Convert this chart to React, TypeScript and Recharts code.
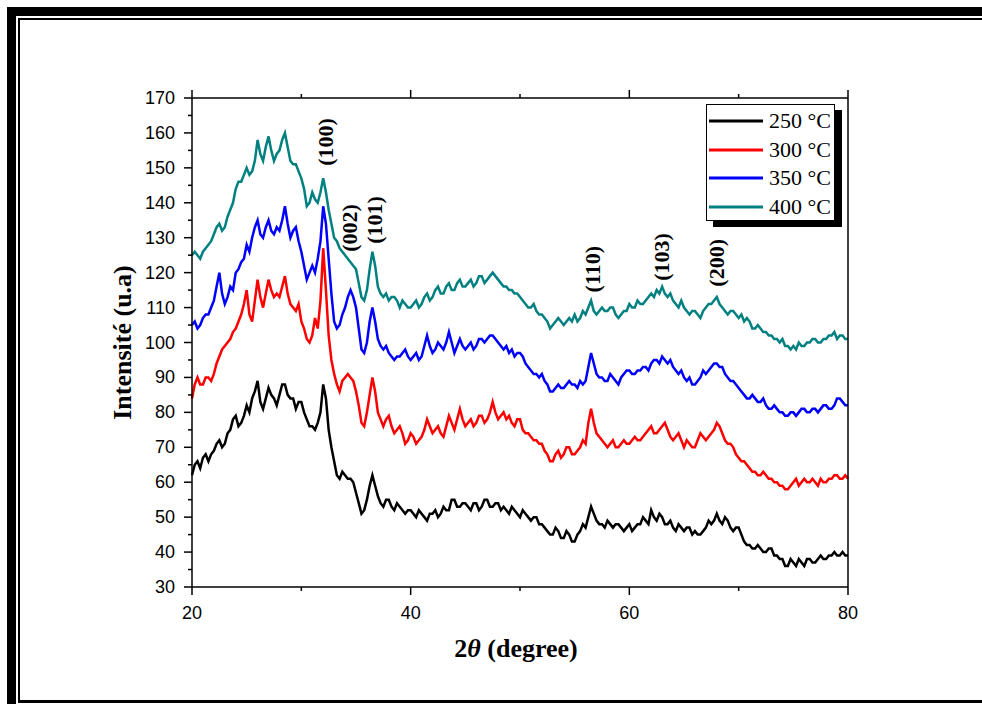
import { Legend, Line, LineChart, ReferenceDot, XAxis, YAxis } from "recharts";

// 2θ grid, 0.25° step
const twoTheta = [
  20, 20.25, 20.5, 20.75, 21, 21.25, 21.5, 21.75, 22, 22.25, 22.5, 22.75, 23, 23.25, 23.5, 23.75, 24, 24.25, 24.5, 24.75,
  25, 25.25, 25.5, 25.75, 26, 26.25, 26.5, 26.75, 27, 27.25, 27.5, 27.75, 28, 28.25, 28.5, 28.75, 29, 29.25, 29.5, 29.75,
  30, 30.25, 30.5, 30.75, 31, 31.25, 31.5, 31.75, 32, 32.25, 32.5, 32.75, 33, 33.25, 33.5, 33.75, 34, 34.25, 34.5, 34.75,
  35, 35.25, 35.5, 35.75, 36, 36.25, 36.5, 36.75, 37, 37.25, 37.5, 37.75, 38, 38.25, 38.5, 38.75, 39, 39.25, 39.5, 39.75,
  40, 40.25, 40.5, 40.75, 41, 41.25, 41.5, 41.75, 42, 42.25, 42.5, 42.75, 43, 43.25, 43.5, 43.75, 44, 44.25, 44.5, 44.75,
  45, 45.25, 45.5, 45.75, 46, 46.25, 46.5, 46.75, 47, 47.25, 47.5, 47.75, 48, 48.25, 48.5, 48.75, 49, 49.25, 49.5, 49.75,
  50, 50.25, 50.5, 50.75, 51, 51.25, 51.5, 51.75, 52, 52.25, 52.5, 52.75, 53, 53.25, 53.5, 53.75, 54, 54.25, 54.5, 54.75,
  55, 55.25, 55.5, 55.75, 56, 56.25, 56.5, 56.75, 57, 57.25, 57.5, 57.75, 58, 58.25, 58.5, 58.75, 59, 59.25, 59.5, 59.75,
  60, 60.25, 60.5, 60.75, 61, 61.25, 61.5, 61.75, 62, 62.25, 62.5, 62.75, 63, 63.25, 63.5, 63.75, 64, 64.25, 64.5, 64.75,
  65, 65.25, 65.5, 65.75, 66, 66.25, 66.5, 66.75, 67, 67.25, 67.5, 67.75, 68, 68.25, 68.5, 68.75, 69, 69.25, 69.5, 69.75,
  70, 70.25, 70.5, 70.75, 71, 71.25, 71.5, 71.75, 72, 72.25, 72.5, 72.75, 73, 73.25, 73.5, 73.75, 74, 74.25, 74.5, 74.75,
  75, 75.25, 75.5, 75.75, 76, 76.25, 76.5, 76.75, 77, 77.25, 77.5, 77.75, 78, 78.25, 78.5, 78.75, 79, 79.25, 79.5, 79.75,
  80,
];

const i250 = [
  62, 65, 66, 64, 67, 68, 66, 68, 69, 71, 72, 70, 71, 74, 75, 78, 79, 76, 77, 79,
  82, 80, 84, 86, 89, 83, 81, 84, 87, 85, 84, 82, 85, 88, 88, 85, 84, 84, 81, 83,
  83, 80, 78, 76, 76, 75, 77, 80, 88, 84, 75, 70, 66, 62, 61, 63, 62, 61, 61, 60,
  57, 54, 51, 52, 55, 59, 62, 59, 56, 54, 53, 55, 55, 53, 52, 54, 53, 52, 51, 52,
  52, 51, 50, 52, 51, 50, 49, 51, 51, 52, 50, 51, 53, 52, 52, 55, 55, 53, 53, 54,
  54, 53, 52, 54, 54, 52, 53, 55, 55, 53, 53, 54, 54, 52, 53, 52, 51, 53, 52, 51,
  50, 52, 51, 50, 49, 50, 50, 48, 48, 47, 46, 45, 45, 47, 46, 44, 44, 46, 45, 43,
  43, 45, 46, 48, 47, 50, 53, 51, 49, 48, 48, 47, 49, 48, 47, 48, 48, 47, 46, 47,
  48, 46, 47, 48, 48, 50, 49, 48, 52, 50, 49, 51, 50, 48, 48, 49, 47, 46, 48, 47,
  46, 47, 47, 45, 46, 45, 45, 46, 47, 49, 48, 49, 51, 49, 48, 50, 49, 47, 46, 47,
  47, 45, 43, 42, 42, 41, 41, 42, 41, 40, 40, 41, 41, 39, 39, 38, 38, 36, 36, 38,
  37, 36, 38, 37, 36, 38, 38, 37, 37, 38, 39, 38, 38, 39, 39, 40, 39, 39, 40, 39,
  39,
];

const i300 = [
  84, 88, 90, 88, 88, 90, 90, 89, 91, 94, 96, 98, 99, 100, 101, 103, 104, 106, 108, 111,
  115, 108, 106, 112, 118, 113, 110, 114, 118, 115, 113, 114, 113, 116, 119, 114, 111, 110, 109, 111,
  106, 104, 101, 100, 102, 107, 104, 112, 127, 115, 102, 95, 91, 88, 86, 89, 90, 91, 90, 89,
  86, 82, 77, 76, 80, 85, 90, 86, 80, 78, 76, 78, 79, 76, 74, 75, 76, 74, 71, 72,
  74, 73, 71, 72, 73, 75, 78, 76, 74, 75, 76, 74, 73, 76, 79, 77, 75, 78, 81, 78,
  76, 77, 78, 76, 77, 79, 79, 77, 78, 80, 83, 80, 78, 79, 80, 78, 79, 77, 76, 78,
  78, 75, 74, 74, 73, 72, 72, 71, 71, 69, 68, 66, 66, 68, 69, 67, 68, 70, 70, 68,
  68, 69, 70, 72, 71, 77, 81, 77, 74, 73, 72, 71, 70, 71, 72, 70, 70, 71, 72, 71,
  71, 72, 73, 72, 72, 73, 74, 75, 76, 74, 74, 75, 76, 77, 75, 73, 72, 73, 74, 72,
  70, 72, 71, 70, 70, 72, 74, 73, 72, 73, 74, 75, 77, 76, 74, 72, 71, 71, 70, 68,
  67, 66, 66, 65, 64, 63, 63, 62, 62, 63, 62, 61, 61, 60, 60, 59, 59, 58, 58, 59,
  60, 61, 59, 60, 61, 60, 60, 61, 60, 59, 61, 60, 60, 61, 61, 62, 62, 61, 61, 62,
  61,
];

const i350 = [
  105, 106, 104, 105, 107, 108, 108, 110, 112, 116, 120, 114, 111, 113, 116, 115, 120, 121, 123, 124,
  128, 126, 130, 133, 135, 131, 130, 133, 135, 132, 131, 133, 132, 135, 139, 134, 130, 132, 133, 129,
  126, 122, 118, 120, 122, 120, 124, 129, 139, 134, 124, 114, 106, 104, 105, 108, 110, 113, 115, 113,
  110, 104, 98, 97, 100, 106, 110, 106, 101, 99, 98, 99, 97, 96, 95, 96, 96, 97, 98, 96,
  95, 96, 97, 95, 96, 99, 102, 99, 97, 98, 100, 99, 98, 100, 103, 100, 97, 99, 101, 99,
  98, 99, 100, 98, 99, 101, 101, 100, 101, 102, 102, 101, 100, 99, 98, 99, 97, 98, 96, 97,
  97, 96, 94, 93, 92, 91, 91, 90, 91, 89, 88, 86, 86, 87, 88, 87, 87, 88, 89, 88,
  88, 87, 89, 88, 89, 93, 97, 94, 91, 90, 90, 89, 89, 91, 90, 89, 88, 90, 91, 92,
  92, 91, 91, 92, 92, 93, 93, 92, 94, 95, 95, 94, 96, 95, 94, 95, 93, 92, 91, 92,
  90, 89, 90, 88, 88, 89, 90, 92, 91, 92, 93, 94, 94, 93, 93, 91, 90, 89, 89, 88,
  87, 86, 85, 84, 84, 85, 84, 83, 83, 84, 82, 81, 81, 82, 81, 80, 80, 79, 79, 80,
  80, 79, 80, 81, 81, 80, 80, 81, 81, 80, 81, 82, 82, 81, 81, 82, 84, 84, 83, 82,
  82,
];

const i400 = [
  125, 126, 125, 124, 126, 127, 128, 129, 131, 133, 134, 132, 133, 136, 138, 140, 144, 146, 146, 148,
  150, 148, 149, 152, 158, 154, 152, 156, 159, 155, 152, 154, 155, 158, 160, 156, 152, 151, 151, 149,
  147, 144, 139, 140, 143, 141, 140, 143, 147, 143, 138, 134, 130, 129, 127, 126, 125, 124, 123, 122,
  121, 117, 113, 112, 115, 121, 126, 122, 116, 114, 113, 114, 112, 113, 113, 112, 110, 112, 111, 110,
  110, 111, 112, 110, 111, 113, 114, 112, 113, 115, 116, 114, 114, 116, 117, 115, 115, 117, 118, 116,
  116, 117, 118, 116, 117, 119, 119, 117, 118, 119, 120, 119, 118, 117, 116, 116, 115, 115, 114, 114,
  113, 112, 111, 110, 110, 111, 109, 108, 108, 107, 106, 104, 105, 106, 107, 106, 105, 106, 107, 106,
  108, 106, 107, 109, 108, 110, 112, 109, 108, 109, 110, 109, 109, 110, 110, 108, 107, 108, 109, 109,
  111, 110, 110, 112, 111, 111, 112, 113, 114, 113, 115, 114, 116, 114, 113, 114, 112, 111, 110, 112,
  110, 109, 108, 109, 109, 108, 107, 109, 110, 111, 111, 112, 113, 111, 110, 109, 108, 109, 109, 108,
  107, 108, 106, 107, 106, 104, 104, 105, 104, 103, 103, 102, 102, 101, 101, 100, 101, 99, 99, 98,
  99, 98, 100, 99, 99, 100, 100, 101, 101, 100, 100, 101, 101, 102, 102, 103, 101, 102, 102, 101,
  101,
];

const xTicks = [20, 30, 40, 50, 60, 70, 80];
const yTicks = [
  30, 35, 40, 45, 50, 55, 60, 65, 70, 75, 80, 85, 90, 95, 100,
  105, 110, 115, 120, 125, 130, 135, 140, 145, 150, 155, 160, 165, 170,
];

const series = [
  { key: "s250", name: "250 °C", color: "#000000" },
  { key: "s300", name: "300 °C", color: "#ff0000" },
  { key: "s350", name: "350 °C", color: "#0000ff" },
  { key: "s400", name: "400 °C", color: "#008080" },
];

const peaks = [
  { label: "(100)", x: 32.2, y: 157.4 },
  { label: "(002)", x: 34.4, y: 132.8 },
  { label: "(101)", x: 36.65, y: 135.1 },
  { label: "(110)", x: 56.6, y: 121 },
  { label: "(103)", x: 62.9, y: 124.5 },
  { label: "(200)", x: 68.0, y: 122.8 },
];

const data = twoTheta.map((t, i) => ({
  t,
  s250: i250[i],
  s300: i300[i],
  s350: i350[i],
  s400: i400[i],
}));

const SANS = '"Liberation Sans", Arial, sans-serif';
const SERIF = '"Liberation Serif", "Times New Roman", serif';

const makeXTick = (side: "bottom" | "top") => (props: any) => {
  const { x, y, payload } = props;
  const v = payload.value;
  const major = v % 20 === 0;
  const len = major ? 8 : 4;
  const dir = side === "bottom" ? 1 : -1;
  return (
    <g>
      <line x1={x} y1={y} x2={x} y2={y + dir * len} stroke="#000" strokeWidth={1.5} />
      {major && side === "bottom" && (
        <text x={x} y={y + 32} textAnchor="middle" fontFamily={SANS} fontSize={18} fill="#000">
          {v}
        </text>
      )}
    </g>
  );
};

const makeYTick = (side: "left" | "right") => (props: any) => {
  const { x, y, payload } = props;
  const v = payload.value;
  const major = v % 10 === 0;
  const len = major ? 8 : 4;
  const dir = side === "left" ? -1 : 1;
  return (
    <g>
      <line x1={x} y1={y} x2={x + dir * len} y2={y} stroke="#000" strokeWidth={1.5} />
      {major && side === "left" && (
        <text x={x - 17} y={y} textAnchor="end" dominantBaseline="central" fontFamily={SANS} fontSize={18} fill="#000">
          {v}
        </text>
      )}
    </g>
  );
};

const peakLabel = (text: string) => (props: any) => {
  const vb = props.viewBox || {};
  const cx = (vb.x ?? 0) + (vb.width ?? 0) / 2;
  const cy = (vb.y ?? 0) + (vb.height ?? 0) / 2;
  return (
    <text
      x={cx}
      y={cy}
      transform={`rotate(-90 ${cx} ${cy})`}
      textAnchor="middle"
      dominantBaseline="central"
      fontFamily={SERIF}
      fontWeight="bold"
      fontSize={22}
      fill="#000"
    >
      {text}
    </text>
  );
};

const xTitle = (props: any) => {
  const vb = props.viewBox || {};
  const cx = vb.x + vb.width / 2 - 4;
  return (
    <text x={cx} y={vb.y + 70} textAnchor="middle" fontFamily={SERIF} fontWeight="bold" fontSize={26} fill="#000">
      <tspan>2</tspan>
      <tspan fontStyle="italic">θ</tspan>
      <tspan>{"  (degree)"}</tspan>
    </text>
  );
};

const yTitle = (props: any) => {
  const vb = props.viewBox || {};
  const cx = vb.x - 10;
  const cy = vb.y + vb.height / 2;
  return (
    <text
      x={cx}
      y={cy}
      transform={`rotate(-90 ${cx} ${cy})`}
      textAnchor="middle"
      dominantBaseline="central"
      fontFamily={SERIF}
      fontWeight="bold"
      fontSize={26}
      fill="#000"
    >
      Intensité (u.a)
    </text>
  );
};

const LegendBox = (props: any) => {
  const items = props.payload || [];
  return (
    <div
      style={{
        width: 129,
        height: 117,
        boxSizing: "border-box",
        border: "1px solid #000",
        background: "#fff",
        boxShadow: "7px 6px 0 #000",
        paddingTop: 2,
        paddingLeft: 2,
      }}
    >
      {items.map((it: any) => (
        <div key={it.value} style={{ display: "flex", alignItems: "center", height: 28.5 }}>
          <svg width={54} height={4}>
            <line x1={0} y1={2} x2={54} y2={2} stroke={it.color} strokeWidth={3} />
          </svg>
          <span style={{ marginLeft: 6, fontFamily: SERIF, fontSize: 22, lineHeight: "28px", color: "#000" }}>
            {it.value}
          </span>
        </div>
      ))}
    </div>
  );
};

export default function App() {
  return (
    <div style={{ position: "absolute", left: 0, top: 0, width: 982, height: 704, background: "#fff" }}>
      <LineChart
        width={982}
        height={704}
        data={data}
        margin={{ top: 88, right: 124, bottom: 87, left: 132 }}
      >
        <XAxis
          dataKey="t"
          type="number"
          domain={[20, 80]}
          ticks={xTicks}
          interval={0}
          height={30}
          tickSize={0}
          tickMargin={0}
          tickLine={false}
          tick={makeXTick("bottom")}
          axisLine={{ stroke: "#000", strokeWidth: 1.5 }}
          label={{ content: xTitle }}
        />
        <XAxis
          xAxisId="top"
          orientation="top"
          dataKey="t"
          type="number"
          domain={[20, 80]}
          ticks={xTicks}
          interval={0}
          height={10}
          tickSize={0}
          tickMargin={0}
          tickLine={false}
          tick={makeXTick("top")}
          axisLine={{ stroke: "#000", strokeWidth: 1.5 }}
        />
        <YAxis
          type="number"
          domain={[30, 170]}
          ticks={yTicks}
          interval={0}
          width={60}
          tickSize={0}
          tickMargin={0}
          tickLine={false}
          tick={makeYTick("left")}
          axisLine={{ stroke: "#000", strokeWidth: 1.5 }}
          label={{ content: yTitle }}
        />
        <YAxis
          yAxisId="right"
          orientation="right"
          type="number"
          domain={[30, 170]}
          ticks={yTicks}
          interval={0}
          width={10}
          tickSize={0}
          tickMargin={0}
          tickLine={false}
          tick={makeYTick("right")}
          axisLine={{ stroke: "#000", strokeWidth: 1.5 }}
        />
        {series.map((s) => (
          <Line
            key={s.key}
            dataKey={s.key}
            name={s.name}
            stroke={s.color}
            strokeWidth={2.5}
            dot={false}
            type="linear"
            isAnimationActive={false}
          />
        ))}
        {peaks.map((p) => (
          <ReferenceDot
            key={p.label}
            x={p.x}
            y={p.y}
            r={0.01}
            fill="none"
            stroke="none"
            label={{ content: peakLabel(p.label) }}
          />
        ))}
        <Legend
          layout="horizontal"
          verticalAlign="middle"
          align="center"
          content={<LegendBox />}
          wrapperStyle={{ left: 706, top: 104, width: 140, height: 125 }}
        />
      </LineChart>
      {/* outer frame */}
      <div style={{ position: "absolute", left: 7, top: 7, width: 975, height: 9, background: "#000" }} />
      <div style={{ position: "absolute", left: 7, top: 7, width: 9, height: 697, background: "#000" }} />
      <div style={{ position: "absolute", left: 18, top: 18, width: 964, height: 2, background: "#000" }} />
      <div style={{ position: "absolute", left: 18, top: 18, width: 2, height: 684, background: "#000" }} />
      <div style={{ position: "absolute", left: 18, top: 700, width: 964, height: 3, background: "#000" }} />
    </div>
  );
}
